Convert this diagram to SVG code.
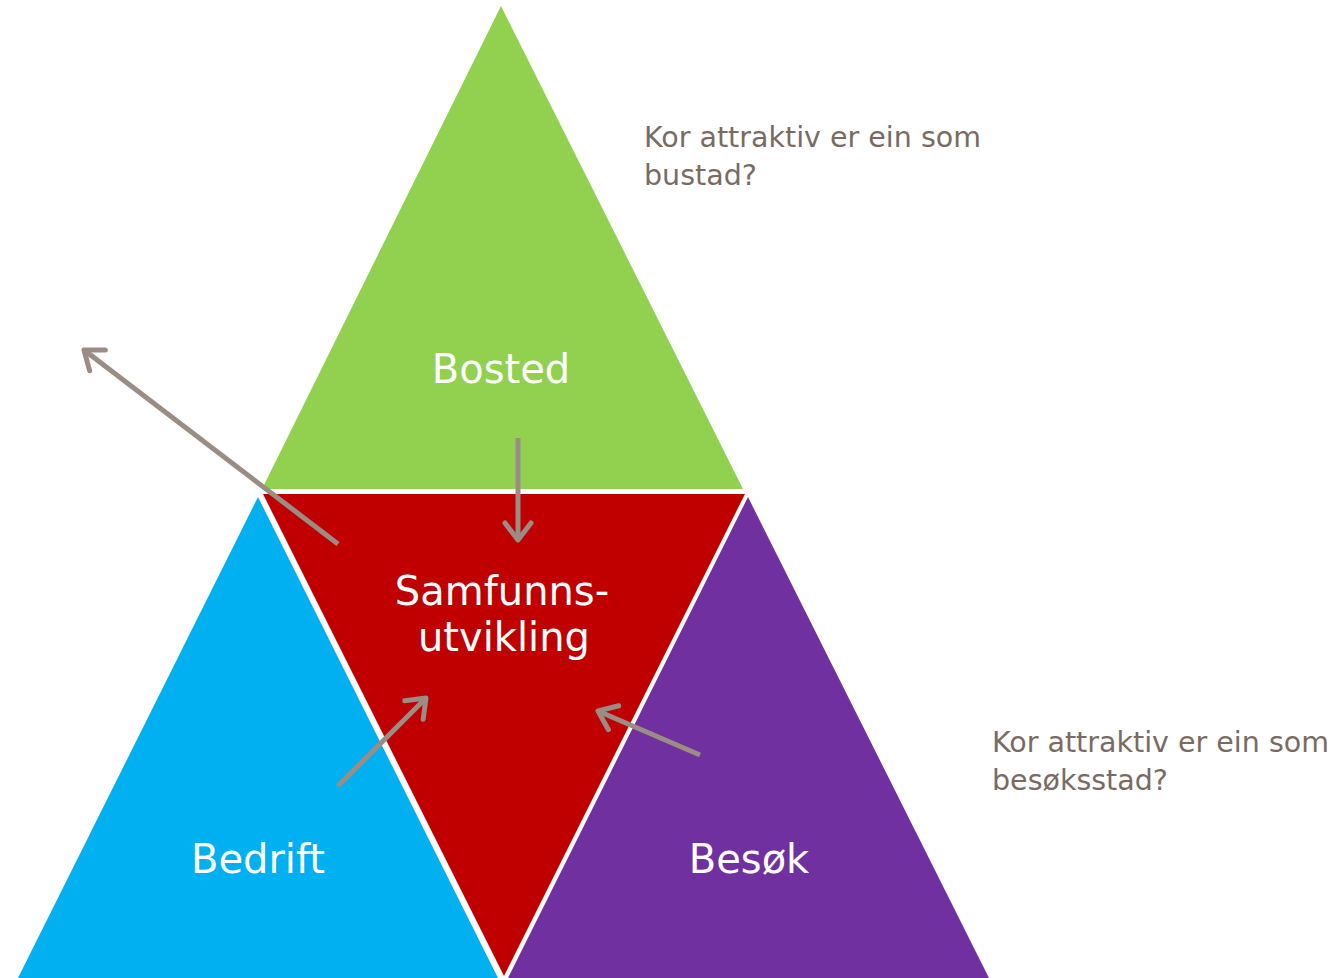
<svg xmlns="http://www.w3.org/2000/svg" width="1342" height="978" viewBox="0 0 1342 978">
  <style>
    .lbl { font-family: "DejaVu Sans", "Liberation Sans", sans-serif; font-size: 40px; fill: #ffffff; text-anchor: middle; }
    .note { font-family: "DejaVu Sans", "Liberation Sans", sans-serif; font-size: 28.5px; fill: #796b62; }
    .arr { stroke: #9b8c84; stroke-width: 5; fill: none; marker-end: url(#head); }
  </style>
  <defs>
    <marker id="head" markerUnits="userSpaceOnUse" viewBox="-24 -16 30 32" refX="0" refY="0" markerWidth="30" markerHeight="32" orient="auto">
      <path d="M -17,-13 L 0,0 L -17,13" fill="none" stroke="#9b8c84" stroke-width="5" stroke-linecap="round" stroke-linejoin="round"/>
    </marker>
  </defs>
  <rect width="1342" height="978" fill="#ffffff"/>
  <g id="bosted">
    <polygon points="501,6 262,489 743,489" fill="#92D050"/>
    <text class="lbl" x="501" y="383">Bosted</text>
  </g>
  <g id="samfunn">
    <polygon points="263,494 745,494 504,976" fill="#C00000"/>
    <text class="lbl" x="502" y="605">Samfunns-</text>
    <text class="lbl" x="504" y="651">utvikling</text>
  </g>
  <g id="bedrift">
    <polygon points="258,497 18,978 498,978" fill="#00B0F0"/>
    <text class="lbl" x="258" y="873">Bedrift</text>
  </g>
  <g id="besok">
    <polygon points="748,497 508,978 989,978" fill="#7030A0"/>
    <text class="lbl" x="749" y="873">Besøk</text>
  </g>
  <g id="note-bustad">
    <text class="note" x="644" y="147">Kor attraktiv er ein som</text>
    <text class="note" x="644" y="185">bustad?</text>
  </g>
  <g id="note-besok">
    <text class="note" x="992" y="752">Kor attraktiv er ein som</text>
    <text class="note" x="992" y="790">besøksstad?</text>
  </g>
  <g id="connectors">
    <line class="arr" x1="338" y1="544" x2="84" y2="350"/>
    <line class="arr" x1="518" y1="438" x2="518" y2="540"/>
    <line class="arr" x1="338" y1="786" x2="426" y2="698"/>
    <line class="arr" x1="700" y1="755" x2="598" y2="711"/>
  </g>
</svg>
